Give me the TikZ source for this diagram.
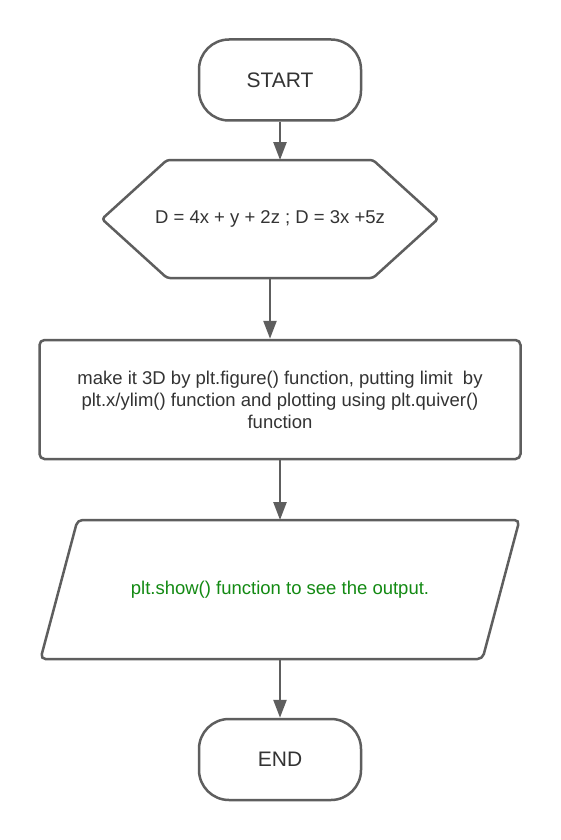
\documentclass[tikz,border=0pt]{standalone}
\usepackage{fontspec}
\setmainfont{Liberation Sans}
\usetikzlibrary{positioning, arrows.meta}
\definecolor{linegray}{HTML}{5E5E5E}
\definecolor{textgray}{HTML}{333333}
\definecolor{outgreen}{HTML}{138A13}

\begin{document}
\begin{tikzpicture}[
    x=1pt, y=1pt,
    outline/.style={draw=linegray, line width=2.5pt},
    base/.style={
        text=textgray,
        align=center,
        inner sep=4pt,
        font=\fontsize{18.5}{22}\selectfont
    },
    terminal/.style={base, outline, rectangle, rounded corners=30pt,
        minimum width=162pt, minimum height=81pt,
        font=\fontsize{21}{25}\selectfont},
    prep/.style={base, rectangle, outer sep=0pt,
        minimum width=336pt, minimum height=118pt},
    process/.style={base, outline, rectangle, rounded corners=5pt,
        minimum width=481pt, minimum height=119pt},
    io/.style={base, rectangle, outer sep=0pt, text=outgreen,
        minimum width=479pt, minimum height=139pt},
    flow/.style={draw=linegray, line width=2.5pt,
        -{Triangle[length=18pt, width=13pt]}}
]

    % page frame
    \fill[white] (0,0) rectangle (560,-840);
    \useasboundingbox (0,0) rectangle (560,-840);

    % --- START ---
    \node[terminal] (start) at (280,-80) {START};

    % --- equations (hexagon drawn round the node) ---
    \node[prep, below=38.25pt of start, xshift=-10pt] (eqs)
        {D = 4x + y + 2z ; D = 3x +5z};
    \draw[outline, rounded corners=3pt]
        (eqs.west) -- ([xshift=65pt]eqs.north west)
        -- ([xshift=-65pt]eqs.north east) -- (eqs.east)
        -- ([xshift=-65pt]eqs.south east)
        -- ([xshift=65pt]eqs.south west) -- cycle;

    % --- plotting step ---
    \node[process, below=60.75pt of eqs, xshift=10pt] (plot) {%
        make it 3D by plt.figure() function, putting limit\ \ by\\
        plt.x/ylim() function and plotting using plt.quiver()\\
        function
    };

    % --- output (parallelogram drawn round the node) ---
    \node[io, below=59.75pt of plot] (show)
        {plt.show() function to see the output.};
    \draw[outline, rounded corners=5pt]
        (show.south west) -- ([xshift=37pt]show.north west)
        -- (show.north east) -- ([xshift=-37pt]show.south east)
        -- cycle;

    % --- END ---
    \node[terminal, below=58.75pt of show] (end) {END};

    % --- connectors ---
    \draw[flow] (start.south) -- (start.south |- eqs.north);
    \draw[flow] (eqs.south) -- (eqs.south |- plot.north);
    \draw[flow] (plot.south) -- (plot.south |- show.north);
    \draw[flow] (show.south) -- (end.north);

\end{tikzpicture}
\end{document}
